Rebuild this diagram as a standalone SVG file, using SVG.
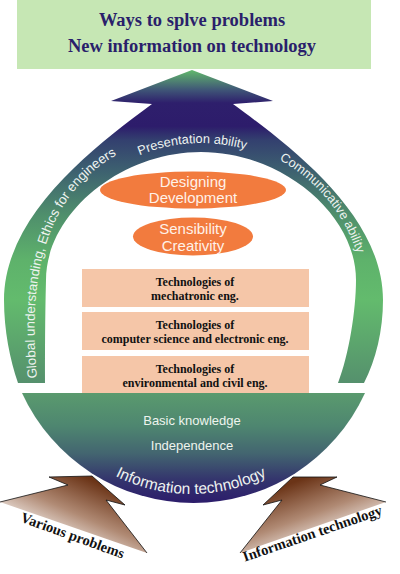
<svg xmlns="http://www.w3.org/2000/svg" width="400" height="574" viewBox="0 0 400 574">
<style>
.title{font-family:"Liberation Serif","Times New Roman",serif;font-weight:bold;font-size:18.5px;fill:#2a1f6b;text-anchor:middle}
.ring{font-family:"Liberation Sans",Arial,sans-serif;font-size:12.8px;fill:#eef3f0}
.ell{fill:#f27b3e}
.etx{font-family:"Liberation Sans",Arial,sans-serif;font-size:15px;fill:#fff1e8;text-anchor:middle}
.box{fill:#f5c6a8}
.btx{font-family:"Liberation Serif","Times New Roman",serif;font-weight:bold;font-size:12px;fill:#111;text-anchor:middle}
.bowltx{font-family:"Liberation Sans",Arial,sans-serif;font-size:13px;fill:#eef4ee;text-anchor:middle}
.arr{fill:none;stroke:#111;stroke-width:0.8;stroke-linejoin:miter}
.atx{font-family:"Liberation Serif","Times New Roman",serif;font-weight:bold;font-size:14.5px;fill:#111;text-anchor:middle}
</style>
<defs>
<linearGradient id="gRing" gradientUnits="userSpaceOnUse" x1="0" y1="70" x2="0" y2="383">
<stop offset="0" stop-color="#62b96c"/>
<stop offset="0.064" stop-color="#3f5577"/>
<stop offset="0.105" stop-color="#2e1f6c"/>
<stop offset="0.18" stop-color="#2d1c6b"/>
<stop offset="0.224" stop-color="#33406f"/>
<stop offset="0.32" stop-color="#3d6070"/>
<stop offset="0.463" stop-color="#4f8f6c"/>
<stop offset="0.607" stop-color="#5eb26b"/>
<stop offset="0.735" stop-color="#63bb6d"/>
<stop offset="1" stop-color="#55906d"/>
</linearGradient>
<linearGradient id="gBowl" gradientUnits="userSpaceOnUse" x1="0" y1="393" x2="0" y2="503">
<stop offset="0" stop-color="#5a9a6e"/>
<stop offset="0.3" stop-color="#4e8670"/>
<stop offset="0.55" stop-color="#436570"/>
<stop offset="0.78" stop-color="#34366d"/>
<stop offset="1" stop-color="#2c1c6b"/>
</linearGradient>
<linearGradient id="gBrownL" gradientUnits="userSpaceOnUse" x1="92" y1="480" x2="62" y2="548">
<stop offset="0" stop-color="#6b3417"/>
<stop offset="0.5" stop-color="#b08a74"/>
<stop offset="1" stop-color="#ffffff"/>
</linearGradient>
<linearGradient id="gBrownR" gradientUnits="userSpaceOnUse" x1="300" y1="480" x2="325" y2="548">
<stop offset="0" stop-color="#6b3417"/>
<stop offset="0.5" stop-color="#b08a74"/>
<stop offset="1" stop-color="#ffffff"/>
</linearGradient>
<path id="pLeft" d="M 37,378 C 30,300 33,200 120,153"/>
<path id="pTop" d="M 81,196.7 A 161 161 0 0 1 308.3,184"/>
<path id="pRight" d="M 279.3,159.9 A 164 164 0 0 1 362.5,275.5"/>
<path id="pBowl" d="M 94.1,463.4 A 169 169 0 0 0 287.9,463.4"/>
</defs>

<g id="goal">
<rect x="17" y="0" width="354" height="69" fill="#c6e7b4"/>
<text class="title" x="192" y="26">Ways to splve problems</text>
<text class="title" x="192" y="52">New information on technology</text>
</g>

<g id="growth-ring">
<path fill="url(#gRing)" d="M 18,383 C 10,360 4,330 4,300 C 4,215 95,146 152,104 L 111,101 L 192,70 L 273,101 L 233,104 C 290,146 383,215 383,300 C 383,330 376,360 364,383 L 338,383 C 349,355 356,310 356,280 C 356,214 282,152 201,152 C 120,152 46,214 46,280 C 45,320 45,350 45,383 Z"/>
<text class="ring"><textPath href="#pTop" startOffset="50%" text-anchor="middle">Presentation ability</textPath></text>
<text class="ring"><textPath href="#pRight">Communicative ability</textPath></text>
<text class="ring" style="font-size:13.3px"><textPath href="#pLeft">Global understanding, Ethics for engineers</textPath></text>
</g>

<g id="designing">
<ellipse class="ell" cx="193" cy="190" rx="93" ry="18.5"/>
<text class="etx" x="193" y="187">Designing</text>
<text class="etx" x="193" y="203">Development</text>
</g>

<g id="sensibility">
<ellipse class="ell" cx="193" cy="236.5" rx="60" ry="19"/>
<text class="etx" x="193" y="234">Sensibility</text>
<text class="etx" x="193" y="251">Creativity</text>
</g>

<g id="tech-mechatronic">
<rect class="box" x="82" y="269" width="227" height="38"/>
<text class="btx" x="195" y="286">Technologies of</text>
<text class="btx" x="195" y="300">mechatronic eng.</text>
</g>

<g id="tech-computer">
<rect class="box" x="82" y="312" width="227" height="38"/>
<text class="btx" x="195" y="329">Technologies of</text>
<text class="btx" x="195" y="343">computer science and electronic eng.</text>
</g>

<g id="tech-environmental">
<rect class="box" x="82" y="356" width="227" height="38"/>
<text class="btx" x="195" y="373">Technologies of</text>
<text class="btx" x="195" y="387">environmental and civil eng.</text>
</g>

<g id="foundation">
<path fill="url(#gBowl)" d="M 22,393 L 365,393 A 188.7 188.7 0 0 1 22,393 Z"/>
<text class="bowltx" x="192" y="425">Basic knowledge</text>
<text class="bowltx" x="192" y="450">Independence</text>
<text class="ring" style="font-size:15.5px"><textPath href="#pBowl" startOffset="50%" text-anchor="middle">Information technology</textPath></text>
</g>

<g id="connectors">
<g id="arrow-problems">
<polygon fill="url(#gBrownL)" points="0,502 68,485 49,477 92,476 125,505 106,500 147,553"/>
<polyline class="arr" points="0,502 68,485 49,477 92,476 125,505 106,500 147,553"/>
</g>
<g id="arrow-it">
<polygon fill="url(#gBrownR)" points="240,553 282,500 263,505 293,477 337,477 320,485 386,502"/>
<polyline class="arr" points="240,553 282,500 263,505 293,477 337,477 320,485 386,502"/>
</g>
</g>

<g id="input-labels">
<text class="atx" transform="translate(71,540) rotate(20)">Various problems</text>
<text class="atx" transform="translate(314,538) rotate(-19)">Information technology</text>
</g>
</svg>
